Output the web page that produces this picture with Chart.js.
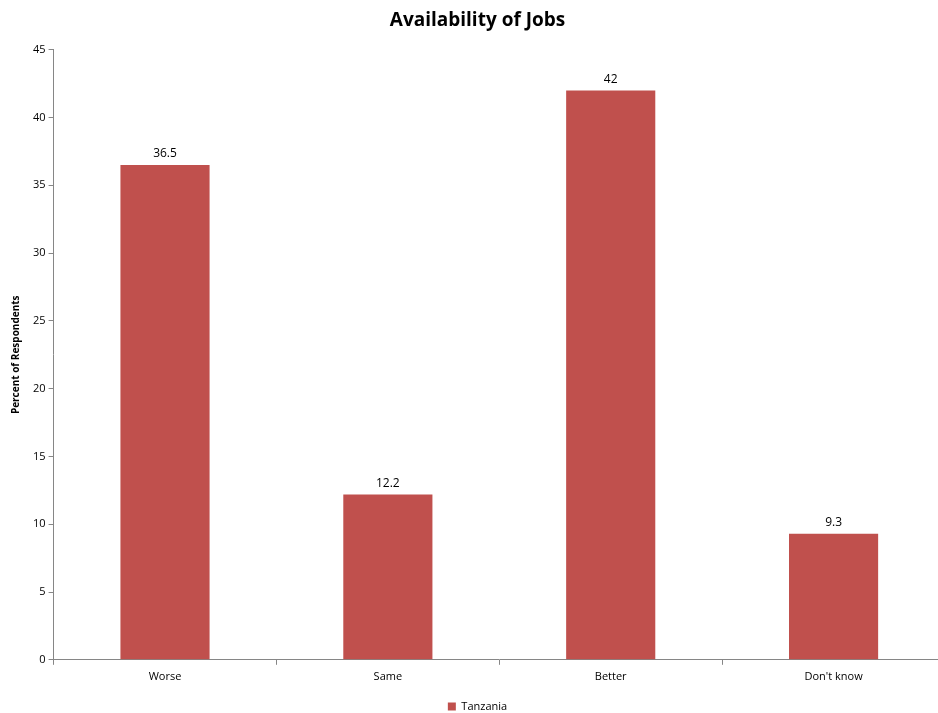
<!DOCTYPE html>
<html lang="en">
<head>
    <meta charset="UTF-8">
    <title>Availability of Jobs</title>
    <script src="https://cdn.jsdelivr.net/npm/chart.js"></script>
    <style>
        html, body { margin: 0; padding: 0; background: #fff; overflow: hidden; }
        #wrap { width: 938px; height: 713px; overflow: hidden; }
    </style>
</head>
<body>
    <!-- plot runs slightly past the right edge in the original, so the canvas is a bit wider than the page -->
    <div id="wrap"><canvas id="jobsChart" width="945" height="713"></canvas></div>
    <script>
    const categories = ['Worse', 'Same', 'Better', "Don't know"];
    const tanzania = [36.5, 12.2, 42, 9.3];
    const seriesName = 'Tanzania';

    // draws the value above each bar
    const barLabels = {
        id: 'barLabels',
        afterDatasetsDraw(chart) {
            const ctx = chart.ctx;
            ctx.save();
            ctx.font = '12px "Open Sans", sans-serif';
            ctx.fillStyle = '#000';
            ctx.textAlign = 'center';
            ctx.textBaseline = 'bottom';
            chart.getDatasetMeta(0).data.forEach((bar, i) => {
                ctx.fillText(String(chart.data.datasets[0].data[i]), bar.x, bar.y - 5);
            });
            ctx.restore();
        }
    };

    const axisGray = '#868686';
    new Chart(document.getElementById('jobsChart').getContext('2d'), {
        type: 'bar',
        data: {
            labels: categories,
            datasets: [{
                label: seriesName,
                data: tanzania,
                backgroundColor: '#C0504D',
                barPercentage: 0.4,
                categoryPercentage: 1.0
            }]
        },
        options: {
            responsive: false,
            animation: false,
            layout: { padding: { left: 10, right: 0, top: 6, bottom: -9 } },
            plugins: {
                title: {
                    display: true,
                    text: 'Availability of Jobs',
                    color: '#000',
                    font: { family: '"Open Sans", sans-serif', size: 19, weight: 'bold' },
                    padding: { top: 3, bottom: 18 }
                },
                legend: {
                    position: 'bottom',
                    labels: {
                        color: '#000',
                        boxWidth: 8,
                        boxHeight: 8,
                        padding: 2,
                        font: { family: '"Open Sans", sans-serif', size: 11 }
                    }
                },
                tooltip: { enabled: false }
            },
            scales: {
                x: {
                    offset: true,
                    border: { color: axisGray },
                    grid: { offset: true, drawOnChartArea: false, color: axisGray, tickLength: 5 },
                    ticks: { color: '#000', font: { family: '"Open Sans", sans-serif', size: 11 }, padding: 5 },
                    afterFit(scale) { scale.height += 11; }
                },
                y: {
                    min: 0,
                    max: 45,
                    border: { color: axisGray },
                    grid: { drawOnChartArea: false, color: axisGray, tickLength: 5 },
                    ticks: { stepSize: 5, color: '#000', font: { family: '"Open Sans", sans-serif', size: 11 }, padding: 3 },
                    title: {
                        display: true,
                        text: 'Percent of Respondents',
                        color: '#000',
                        font: { family: '"Open Sans", sans-serif', size: 10, weight: 'bold' },
                        padding: { top: 0, bottom: 8 }
                    }
                }
            }
        },
        plugins: [barLabels]
    });
    </script>
</body>
</html>
